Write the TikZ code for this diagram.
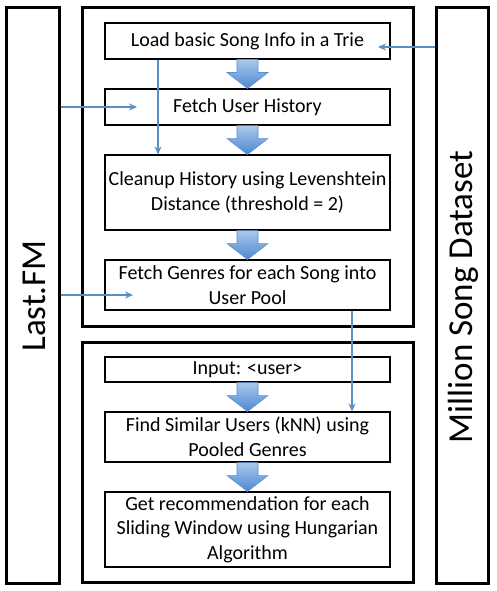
\documentclass[tikz,border=0pt]{standalone}
\usepackage{fontspec}
\setmainfont{Carlito}
\usetikzlibrary{calc,arrows.meta}
\definecolor{thinblue}{HTML}{5A8FC6}
\definecolor{blocktop}{HTML}{A9C9EC}
\definecolor{blockbot}{HTML}{4C88D0}
\definecolor{blockline}{HTML}{5B8FCF}
\tikzset{
  outer/.style={draw=black, line width=3pt},
  stepbox/.style={draw=black, line width=1.1pt, inner sep=0pt, align=center,
    minimum width=285pt, font=\fontsize{20}{24.5}\selectfont},
  side/.style={font=\fontsize{35}{40}\selectfont, rotate=90},
  feed/.style={draw=thinblue, line width=1.6pt, -{Stealth[length=8pt,width=7pt]}},
  blockfill/.style={draw=blockline, line width=0.6pt, top color=blocktop, bottom color=blockbot}
}
\newcommand\blockarr[2]{%
  \path let \p1=(#1.south), \p2=(#2.north) in
    [blockfill] (\x1-10.5pt,\y1) -- (\x1+10.5pt,\y1) -- (\x1+10.5pt,\y1-13pt)
    -- (\x1+20.5pt,\y1-13pt) -- (\x1,\y2) -- (\x1-20.5pt,\y1-13pt)
    -- (\x1-10.5pt,\y1-13pt) -- cycle;}
\begin{document}
\begin{tikzpicture}[x=1pt,y=1pt]
\useasboundingbox (0,0) rectangle (496,-591);
\fill[white] (0,0) rectangle (496,-591);
% outer frames
\draw[outer] (82,-8) rectangle (413,-326);
\draw[outer] (82,-342) rectangle (413,-582);
\node[outer, minimum width=53pt, minimum height=575pt, inner sep=0pt] (lfm) at (32.5,-295.5) {};
\node[outer, minimum width=52pt, minimum height=575pt, inner sep=0pt] (msd) at (462,-295.5) {};
\node[side] at (34,-296) {Last.FM};
\node[side] at (463,-297) {Million Song Dataset};
% steps
\node[stepbox, minimum height=36pt] (b1) at (247.5,-41) {Load basic Song Info in a Trie};
\node[stepbox, minimum height=36pt] (b2) at (247.5,-107) {Fetch User History};
\node[stepbox, minimum height=75pt] (b3) at (247.5,-192.5) {Cleanup History using Levenshtein\\Distance (threshold = 2)};
\node[stepbox, minimum height=50pt] (b4) at (247.5,-285) {Fetch Genres for each Song into\\User Pool};
\node[stepbox, minimum height=25pt] (b5) at (247.5,-369.5) {Input: <user>};
\node[stepbox, minimum height=50pt] (b6) at (247.5,-437) {Find Similar Users (kNN) using\\Pooled Genres};
\node[stepbox, minimum height=75pt] (b7) at (247.5,-529.5) {Get recommendation for each\\Sliding Window using Hungarian\\Algorithm};
% block arrows
\blockarr{b1}{b2}
\blockarr{b2}{b3}
\blockarr{b3}{b4}
\blockarr{b5}{b6}
\blockarr{b6}{b7}
% feed arrows
\coordinate (e1) at (378,-47);
\coordinate (e2) at (137,-107);
\coordinate (e4) at (133,-295);
\coordinate (s3) at (158,-59);
\coordinate (s5) at (352,-310);
\draw[feed] (msd.west |- e1) -- (e1);
\draw[feed] (lfm.east |- e2) -- (e2);
\draw[feed] (s3 |- b1.south) -- (s3 |- b3.north);
\draw[feed] (lfm.east |- e4) -- (e4);
\draw[feed] (s5 |- b4.south) -- (s5 |- b6.north);
\end{tikzpicture}
\end{document}
